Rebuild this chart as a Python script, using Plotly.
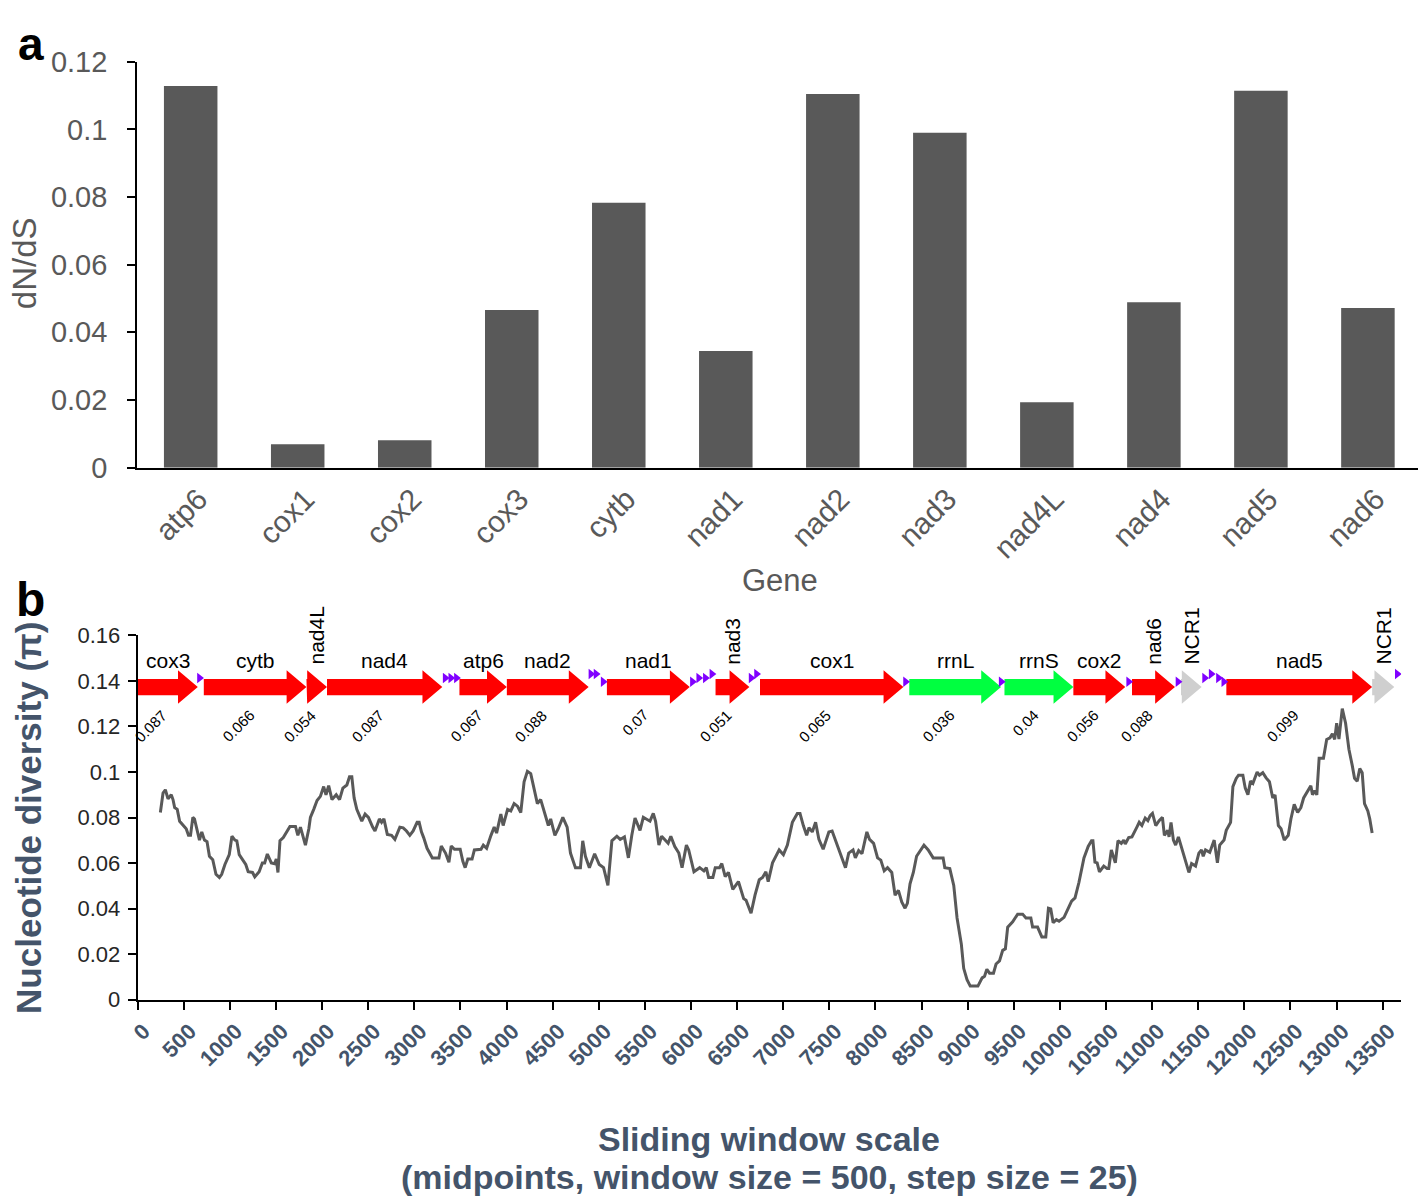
import plotly.graph_objects as go

# ---------------- Panel a data ----------------
genes_a = ["atp6", "cox1", "cox2", "cox3", "cytb", "nad1", "nad2", "nad3", "nad4L", "nad4", "nad5", "nad6"]
dnds = [0.1128, 0.0069, 0.0081, 0.0466, 0.0783, 0.0345, 0.1105, 0.0990, 0.0193, 0.0489, 0.1114, 0.0472]
a_ytick_vals = [0, 0.02, 0.04, 0.06, 0.08, 0.1, 0.12]
a_ytick_text = ["0", "0.02", "0.04", "0.06", "0.08", "0.1", "0.12"]

# ---------------- Panel b data ----------------
window_mid = [246, 275, 300, 329, 364, 383, 401, 429, 455, 501, 526, 551, 573, 598, 616, 670, 695, 724, 752, 778,
              814, 849, 886, 911, 946, 993, 1022, 1054, 1075, 1101, 1137, 1172, 1198, 1245, 1270, 1317, 1352, 1377,
              1406, 1449, 1485, 1503, 1521, 1543, 1579, 1622, 1651, 1711, 1737, 1765, 1819, 1856, 1873, 1909, 1945,
              1981, 2017, 2042, 2071, 2107, 2153, 2189, 2225, 2268, 2297, 2322, 2347, 2376, 2430, 2466, 2502, 2548,
              2573, 2621, 2645, 2670, 2707, 2753, 2789, 2843, 2879, 2915, 2951, 2987, 3030, 3052, 3077, 3101, 3138,
              3195, 3267, 3292, 3338, 3375, 3400, 3435, 3497, 3526, 3551, 3580, 3626, 3651, 3723, 3748, 3784, 3831,
              3866, 3892, 3938, 3963, 4011, 4046, 4082, 4118, 4154, 4190, 4226, 4262, 4297, 4334, 4370, 4416, 4453,
              4478, 4524, 4560, 4610, 4657, 4693, 4747, 4801, 4826, 4855, 4898, 4955, 5005, 5052, 5099, 5142, 5196,
              5232, 5278, 5321, 5358, 5393, 5447, 5483, 5555, 5591, 5616, 5652, 5681, 5724, 5752, 5781, 5824, 5868,
              5903, 5950, 5975, 6032, 6094, 6140, 6166, 6191, 6237, 6263, 6309, 6334, 6371, 6406, 6453, 6514, 6571,
              6597, 6651, 6694, 6740, 6776, 6812, 6837, 6884, 6956, 7002, 7045, 7099, 7153, 7182, 7218, 7254, 7279,
              7315, 7351, 7387, 7433, 7495, 7530, 7577, 7621, 7675, 7710, 7757, 7782, 7818, 7854, 7907, 7936, 7980,
              8023, 8058, 8095, 8131, 8177, 8213, 8249, 8285, 8321, 8346, 8375, 8411, 8446, 8483, 8526, 8572, 8626,
              8734, 8752, 8806, 8849, 8885, 8931, 8957, 8993, 9028, 9111, 9157, 9183, 9208, 9237, 9280, 9308, 9345,
              9380, 9409, 9434, 9488, 9542, 9596, 9632, 9685, 9704, 9758, 9804, 9847, 9876, 9901, 9927, 9962, 9991,
              10045, 10081, 10127, 10164, 10207, 10261, 10307, 10343, 10358, 10380, 10404, 10429, 10476, 10512,
              10530, 10558, 10601, 10630, 10666, 10692, 10709, 10746, 10781, 10835, 10860, 10889, 10925, 10954,
              10979, 11004, 11040, 11076, 11112, 11133, 11169, 11184, 11205, 11231, 11255, 11285, 11320, 11356,
              11399, 11428, 11471, 11507, 11536, 11554, 11579, 11625, 11673, 11708, 11733, 11780, 11804, 11851,
              11876, 11912, 11937, 11984, 12010, 12039, 12067, 12093, 12139, 12164, 12200, 12236, 12272, 12308,
              12333, 12369, 12398, 12433, 12476, 12505, 12541, 12578, 12613, 12643, 12685, 12721, 12739, 12764,
              12786, 12811, 12858, 12893, 12929, 12955, 12980, 13001, 13026, 13062, 13098, 13134, 13170, 13195,
              13224, 13252, 13278, 13303, 13339, 13360, 13386]
pi_values = [0.0822, 0.0908, 0.0922, 0.0882, 0.0900, 0.0879, 0.0844, 0.0836, 0.0784, 0.0765, 0.0751, 0.0722, 0.0722,
             0.0801, 0.0794, 0.0701, 0.0737, 0.0701, 0.0694, 0.0630, 0.0615, 0.0551, 0.0537, 0.0551, 0.0594, 0.0637,
             0.0718, 0.0701, 0.0698, 0.0637, 0.0615, 0.0594, 0.0562, 0.0559, 0.0540, 0.0562, 0.0601, 0.0601, 0.0640,
             0.0601, 0.0597, 0.0618, 0.0559, 0.0698, 0.0712, 0.0744, 0.0761, 0.0761, 0.0722, 0.0758, 0.0679, 0.0751,
             0.0801, 0.0836, 0.0875, 0.0893, 0.0936, 0.0900, 0.0940, 0.0879, 0.0900, 0.0879, 0.0929, 0.0943, 0.0979,
             0.0979, 0.0886, 0.0836, 0.0784, 0.0815, 0.0801, 0.0758, 0.0741, 0.0794, 0.0779, 0.0794, 0.0726, 0.0722,
             0.0704, 0.0758, 0.0755, 0.0741, 0.0722, 0.0741, 0.0779, 0.0779, 0.0737, 0.0712, 0.0665, 0.0623, 0.0623,
             0.0675, 0.0644, 0.0604, 0.0675, 0.0661, 0.0661, 0.0608, 0.0580, 0.0618, 0.0618, 0.0658, 0.0661, 0.0679,
             0.0665, 0.0722, 0.0758, 0.0732, 0.0815, 0.0765, 0.0836, 0.0829, 0.0861, 0.0850, 0.0822, 0.0957, 0.1003,
             0.0993, 0.0922, 0.0861, 0.0879, 0.0815, 0.0765, 0.0794, 0.0722, 0.0751, 0.0801, 0.0758, 0.0644, 0.0580,
             0.0580, 0.0698, 0.0630, 0.0580, 0.0641, 0.0594, 0.0580, 0.0502, 0.0698, 0.0718, 0.0704, 0.0715, 0.0623,
             0.0722, 0.0798, 0.0744, 0.0801, 0.0784, 0.0818, 0.0784, 0.0679, 0.0718, 0.0698, 0.0687, 0.0718, 0.0673,
             0.0644, 0.0580, 0.0679, 0.0658, 0.0562, 0.0580, 0.0566, 0.0580, 0.0537, 0.0537, 0.0580, 0.0580, 0.0598,
             0.0541, 0.0559, 0.0485, 0.0519, 0.0444, 0.0437, 0.0380, 0.0459, 0.0527, 0.0537, 0.0562, 0.0519, 0.0601,
             0.0658, 0.0637, 0.0679, 0.0779, 0.0818, 0.0818, 0.0765, 0.0722, 0.0755, 0.0737, 0.0779, 0.0704, 0.0661,
             0.0737, 0.0741, 0.0687, 0.0637, 0.0580, 0.0644, 0.0658, 0.0623, 0.0655, 0.0641, 0.0737, 0.0704, 0.0687,
             0.0623, 0.0613, 0.0566, 0.0580, 0.0559, 0.0459, 0.0480, 0.0430, 0.0402, 0.0423, 0.0509, 0.0559, 0.0630,
             0.0655, 0.0679, 0.0658, 0.0623, 0.0623, 0.0580, 0.0576, 0.0502, 0.0359, 0.0245, 0.0138, 0.0088, 0.0060,
             0.0060, 0.0096, 0.0103, 0.0134, 0.0117, 0.0117, 0.0157, 0.0171, 0.0217, 0.0224, 0.0319, 0.0342, 0.0376,
             0.0376, 0.0359, 0.0359, 0.0319, 0.0319, 0.0276, 0.0276, 0.0402, 0.0399, 0.0338, 0.0352, 0.0345, 0.0362,
             0.0395, 0.0433, 0.0447, 0.0516, 0.0623, 0.0673, 0.0698, 0.0698, 0.0604, 0.0601, 0.0562, 0.0587, 0.0576,
             0.0576, 0.0658, 0.0601, 0.0698, 0.0687, 0.0701, 0.0684, 0.0712, 0.0715, 0.0758, 0.0779, 0.0765, 0.0798,
             0.0786, 0.0808, 0.0818, 0.0765, 0.0786, 0.0801, 0.0722, 0.0744, 0.0715, 0.0779, 0.0701, 0.0679, 0.0715,
             0.0665, 0.0623, 0.0559, 0.0598, 0.0587, 0.0644, 0.0658, 0.0630, 0.0658, 0.0647, 0.0701, 0.0601, 0.0679,
             0.0701, 0.0744, 0.0779, 0.0936, 0.0972, 0.0986, 0.0986, 0.0929, 0.0900, 0.0960, 0.0950, 0.1000, 0.0986,
             0.0997, 0.0974, 0.0957, 0.0886, 0.0900, 0.0765, 0.0751, 0.0701, 0.0722, 0.0794, 0.0858, 0.0822, 0.0844,
             0.0886, 0.0912, 0.0940, 0.0900, 0.0918, 0.0900, 0.1060, 0.1060, 0.1143, 0.1150, 0.1168, 0.1143, 0.1214,
             0.1145, 0.1278, 0.1214, 0.1100, 0.1029, 0.0972, 0.0960, 0.1015, 0.0997, 0.0861, 0.0829, 0.0794, 0.0732]
b_ytick_vals = [0, 0.02, 0.04, 0.06, 0.08, 0.1, 0.12, 0.14, 0.16]
b_ytick_text = ["0", "0.02", "0.04", "0.06", "0.08", "0.1", "0.12", "0.14", "0.16"]
b_xtick_vals = list(range(0, 14000, 500))
b_xtick_text = [str(v) for v in b_xtick_vals]

# gene map
feat_names = ["cox3", "cytb", "nad4L", "nad4", "atp6", "nad2", "nad1", "nad3", "cox1", "rrnL", "rrnS",
              "cox2", "nad6", "NCR1", "nad5", "NCR1"]
feat_start = [0, 717, 1830, 2053, 3489, 4003, 5088, 6266, 6748, 8367, 9399, 10146, 10782, 11313, 11805, 13386]
feat_end = [652, 1830, 2053, 3303, 4003, 4890, 5986, 6633, 8303, 9362, 10146, 10709, 11248, 11537, 13386, 13626]
feat_kind = ["pcg", "pcg", "pcg", "pcg", "pcg", "pcg", "pcg", "pcg", "pcg", "rrna", "rrna",
             "pcg", "pcg", "ncr", "pcg", "ncr"]
feat_pi = ["0.087", "0.066", "0.054", "0.087", "0.067", "0.088", "0.07", "0.051", "0.065", "0.036", "0.04",
           "0.056", "0.088", "", "0.099", ""]
feat_vertical = [False, False, True, False, False, False, False, True, False, False, False,
                 False, True, True, False, True]
trna_pos = [670, 3334, 3395, 3456, 4914, 4970, 5047, 6015, 6083, 6155, 6226, 6651, 6710, 8326, 9363,
            10745, 11280, 11569, 11640, 11719, 11777, 13658]
trna_level = [1, 1, 1, 1, 2, 2, 0, 0, 1, 1, 2, 1, 2, 0, 0, 0, 0, 1, 2, 1, 0, 2]

# ---------------- styling constants ----------------
W, H = 1418, 1201
FONT = "Liberation Sans, Arial, sans-serif"
GREY = "#595959"
SLATE = "#44546A"
kind_color = {"pcg": "#FF0000", "rrna": "#00FF40", "ncr": "#CFCFCF"}
ARROW_Y = 0.1373
SHAFT = 0.00355
HEAD = 0.00735
HEAD_LEN = 215
TRNA_Y = {0: 0.1396, 1: 0.1413, 2: 0.1430}


def py(p):
    return 1 - p / H


fig = go.Figure()

# panel a bars
fig.add_trace(go.Bar(x=genes_a, y=dnds, marker=dict(color=GREY, line=dict(width=0)), width=0.5,
                     xaxis="x", yaxis="y", showlegend=False, hoverinfo="x+y"))

# panel b line
fig.add_trace(go.Scatter(x=window_mid, y=pi_values, mode="lines", line=dict(color=GREY, width=3),
                         xaxis="x2", yaxis="y2", showlegend=False))

# gene arrows
for name, s, e, k in zip(feat_names, feat_start, feat_end, feat_kind):
    hl = min(HEAD_LEN, e - s)
    hs = e - hl
    xs = [s, hs, hs, e, hs, hs, s, s]
    ys = [ARROW_Y + SHAFT, ARROW_Y + SHAFT, ARROW_Y + HEAD, ARROW_Y, ARROW_Y - HEAD, ARROW_Y - SHAFT,
          ARROW_Y - SHAFT, ARROW_Y + SHAFT]
    fig.add_trace(go.Scatter(x=xs, y=ys, mode="lines", fill="toself", fillcolor=kind_color[k],
                             line=dict(width=0, color=kind_color[k]), xaxis="x2", yaxis="y2",
                             showlegend=False, hoverinfo="text", text=name))

# tRNA markers
fig.add_trace(go.Scatter(x=trna_pos, y=[TRNA_Y[l] for l in trna_level], mode="markers",
                         marker=dict(symbol="triangle-right", size=9, color="#8000FF", line=dict(width=0)),
                         xaxis="x2", yaxis="y2", showlegend=False, hoverinfo="skip"))

annotations = []
for name, s, e, pi_txt, vert in zip(feat_names, feat_start, feat_end, feat_pi, feat_vertical):
    mid = (s + e) / 2
    if vert:
        annotations.append(dict(x=mid, y=0.1462, xref="x2", yref="y2", text=name, showarrow=False,
                                textangle=-90, xanchor="center", yanchor="bottom",
                                font=dict(family=FONT, size=21, color="black")))
    else:
        annotations.append(dict(x=mid, y=0.1490, xref="x2", yref="y2", text=name, showarrow=False,
                                xanchor="center", yanchor="middle",
                                font=dict(family=FONT, size=21, color="black")))
    if pi_txt:
        annotations.append(dict(x=mid, y=0.1300, xref="x2", yref="y2", text=pi_txt, showarrow=False,
                                textangle=-45, xanchor="right", yanchor="top", xshift=6,
                                font=dict(family=FONT, size=15, color="black")))

# titles / panel letters
annotations += [
    dict(x=22 / W, y=1, xref="paper", yref="paper", text="<b>a</b>", showarrow=False,
         xanchor="center", yanchor="top", font=dict(family=FONT, size=46, color="black")),
    dict(x=22 / W, y=py(599), xref="paper", yref="paper", text="<b>b</b>", showarrow=False,
         xanchor="center", yanchor="middle", font=dict(family=FONT, size=48, color="black")),
    dict(x=776 / W, y=py(580), xref="paper", yref="paper", text="Gene", showarrow=False,
         xanchor="center", yanchor="middle", font=dict(family=FONT, size=31, color=GREY)),
    dict(x=15 / W, y=py(254), xref="paper", yref="paper", text="dN/dS", showarrow=False, textangle=-90,
         xanchor="center", yanchor="middle", font=dict(family=FONT, size=33, color=GREY)),
    dict(x=765 / W, y=py(1154), xref="paper", yref="paper", text="<b>Sliding window scale</b>",
         showarrow=False, xanchor="center", yanchor="middle", font=dict(family=FONT, size=34, color=SLATE)),
    dict(x=765 / W, y=py(1193), xref="paper", yref="paper",
         text="<b>(midpoints, window size = 500, step size = 25)</b>",
         showarrow=False, xanchor="center", yanchor="middle", font=dict(family=FONT, size=34, color=SLATE)),
    dict(x=19 / W, y=py(824), xref="paper", yref="paper", text="<b>Nucleotide diversity (\u03c0)</b>",
         showarrow=False, textangle=-90, xanchor="center", yanchor="middle",
         font=dict(family=FONT, size=35, color=SLATE)),
]

axis_common = dict(showgrid=False, zeroline=False, showline=True, linecolor="black", linewidth=2,
                   mirror=False)

fig.update_layout(
    width=W, height=H,
    margin=dict(l=0, r=0, t=0, b=0),
    paper_bgcolor="white", plot_bgcolor="white",
    showlegend=False,
    bargap=0.5,
    annotations=annotations,
    xaxis=dict(domain=[129 / W, 1], range=[-0.5, 11.468], anchor="y", ticks="", tickangle=-45,
               tickfont=dict(family=FONT, size=30, color=GREY), ticklabelshift=8, ticklabelstandoff=0,
               **axis_common),
    yaxis=dict(domain=[py(464), py(47)], range=[0, 0.12], anchor="x", ticks="outside", ticklen=8,
               tickwidth=2, tickcolor="black", tickvals=a_ytick_vals, ticktext=a_ytick_text,
               tickfont=dict(family=FONT, size=29, color=GREY), ticklabelstandoff=14, **axis_common),
    xaxis2=dict(domain=[129.5 / W, 1401 / W], range=[0, 13700], anchor="y2", ticks="outside", ticklen=8,
                tickwidth=2, tickcolor="black", tickvals=b_xtick_vals, ticktext=b_xtick_text, tickangle=-45,
                tickfont=dict(family=FONT, size=22, color=SLATE, weight="bold"), ticklabelshift=6,
                **axis_common),
    yaxis2=dict(domain=[py(1010.7), py(636.3)], range=[0, 0.16], anchor="x2", ticks="outside", ticklen=8,
                tickwidth=2, tickcolor="black", tickvals=b_ytick_vals, ticktext=b_ytick_text,
                tickfont=dict(family=FONT, size=22, color="#262626"), ticklabelstandoff=3, **axis_common),
)

fig.write_html("out.html", config={"displayModeBar": False},
               post_script="document.body.style.margin='0px';")
